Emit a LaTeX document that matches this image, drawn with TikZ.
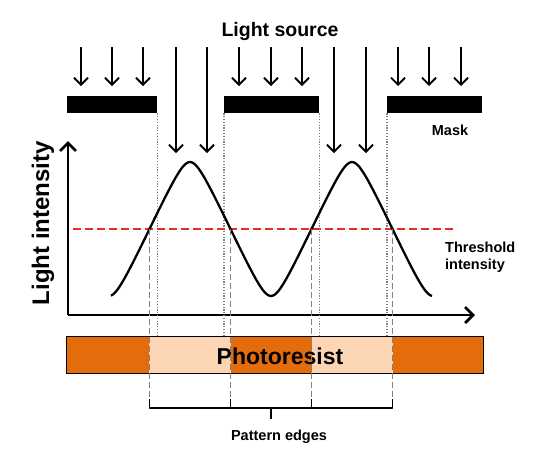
\documentclass[tikz,border=0pt]{standalone}
\usepackage{fontspec}
\setmainfont{Liberation Sans}
\usetikzlibrary{arrows.meta}
\definecolor{resist}{HTML}{E46C0A}
\definecolor{resistlight}{HTML}{FCD5B5}
\definecolor{thresh}{HTML}{F02828}
\begin{document}
\begin{tikzpicture}[x=1pt,y=-1pt,
  lbl/.style={inner sep=0pt},
  ray/.style={line width=1.8pt, -{Straight Barb[length=7pt,width=14pt]}},
  maskbar/.style={fill=black, draw=none, inner sep=0pt, anchor=north west, minimum height=17pt},
  axisline/.style={line width=2.8pt, -{Straight Barb[length=8pt,width=16pt]}},
  edgeline/.style={gray, dash pattern=on 6pt off 3pt, line width=1.3pt},
  maskedge/.style={gray, dash pattern=on 1.2pt off 1.6pt, line width=1.2pt},
  bracketline/.style={line width=1.6pt, line join=round},
  lightpart/.style={fill=resistlight, draw=none, inner sep=0pt, anchor=north west, minimum height=36pt}]
\useasboundingbox (0,0) rectangle (537,459);

% title
\node[lbl, font=\bfseries\fontsize{19.5}{22}\selectfont] (src) at (280,31) {Light source};

% mask
\node[maskbar, minimum width=90pt] (m1) at (67,96) {};
\node[maskbar, minimum width=95pt] (m2) at (224,96) {};
\node[maskbar, minimum width=95pt] (m3) at (387,96) {};
\node[lbl, font=\bfseries\fontsize{14.5}{17}\selectfont] (masklbl) at (450,130) {Mask};

% short arrows
\foreach \x [count=\i] in {81,112,143,239,271,302,398,429,461}{
  \coordinate (sa\i) at (\x,47);
  \coordinate (sb\i) at (\x,86);
  \draw[ray] (sa\i) -- (sb\i);
}
% long arrows
\foreach \x [count=\i] in {176,207,334,366}{
  \coordinate (la\i) at (\x,47);
  \coordinate (lb\i) at (\x,153);
  \draw[ray] (la\i) -- (lb\i);
}

% photoresist
\node[fill=resist, draw=black, line width=0.8pt, inner sep=0pt, anchor=north west,
      minimum width=417pt, minimum height=37pt] (pr) at (66,336) {};
\node[lightpart, minimum width=82pt] (lp1) at (149,336.5) {};
\node[lightpart, minimum width=81pt] (lp2) at (312,336.5) {};
\node[lbl, font=\bfseries\fontsize{23}{26}\selectfont] (prlbl) at (280,356) {Photoresist};

% axes
\coordinate (origin) at (68,315);
\coordinate (ytop) at (68,141);
\coordinate (xend) at (475,315);
\draw[axisline] (origin) -- (ytop);
\draw[axisline] (origin) -- (xend);
\node[lbl, rotate=90, font=\bfseries\fontsize{24}{26}\selectfont] (ylbl) at (43,223) {Light intensity};

% mask edge dotted lines
\foreach \n/\a in {m1/south east, m2/south west, m2/south east, m3/south west}{
  \draw[maskedge] (\n.\a) -- (\n.\a |- pr.north);
}

% threshold
\coordinate (th1) at (73,229);
\coordinate (th2) at (457,229);
\draw[thresh, line width=2pt, dash pattern=on 8pt off 4pt] (th1) -- (th2);
\node[lbl, anchor=north west, align=left, font=\bfseries\fontsize{14.5}{17}\selectfont] (thlbl) at (445,242) {Threshold\\intensity};

% intensity curve (rounded triangle wave)
\draw[line width=2.3pt, line join=round] plot[domain=111:432, samples=160, smooth]
  ({\x},{229-67*asin(0.92*cos(2.22222*(\x-190)))/66.93});

% pattern edge dashed lines and bracket
\foreach \x [count=\i] in {149.5,230.5,311.5,392.5}{
  \coordinate (et\i) at (\x,229);
  \coordinate (eb\i) at (\x,399);
  \coordinate (ebr\i) at (\x,408);
  \draw[edgeline] (et\i) -- (eb\i);
}
\draw[bracketline] (eb1) -- (ebr1) -- (ebr4) -- (eb4);
\draw[bracketline] (eb2) -- (ebr2);
\draw[bracketline] (eb3) -- (ebr3);
\coordinate (bm) at (271,408);
\coordinate (bmt) at (271,419);
\draw[bracketline] (bm) -- (bmt);
\node[lbl, font=\bfseries\fontsize{14.5}{17}\selectfont] (pe) at (279,437) {Pattern edges};
\end{tikzpicture}
\end{document}
